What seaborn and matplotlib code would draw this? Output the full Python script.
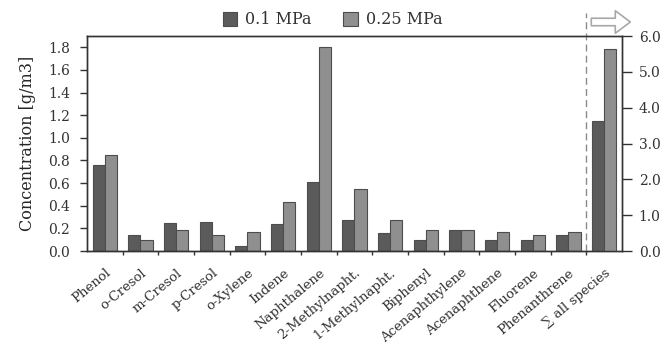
import matplotlib
matplotlib.use("Agg")
import matplotlib.pyplot as plt
from matplotlib.patches import FancyArrowPatch
from matplotlib.ticker import FormatStrFormatter
import seaborn as sns
import pandas as pd

# Gas-phase concentrations of individual tar species at two pressures [g/m3]
species = ["Phenol", "o-Cresol", "m-Cresol", "p-Cresol", "o-Xylene", "Indene",
           "Naphthalene", "2-Methylnapht.", "1-Methylnapht.", "Biphenyl",
           "Acenaphthylene", "Acenaphthene", "Fluorene", "Phenanthrene"]
conc_low = [0.76, 0.14, 0.25, 0.26, 0.04, 0.24, 0.61, 0.27, 0.16, 0.10,
            0.19, 0.10, 0.10, 0.14]
conc_high = [0.85, 0.10, 0.19, 0.14, 0.17, 0.43, 1.80, 0.55, 0.27, 0.19,
             0.19, 0.17, 0.14, 0.17]

# Sum over all species (right-hand axis)
total_label = "\u2211 all species"
total_low = 3.64
total_high = 5.64

pressures = ["0.1 MPa", "0.25 MPa"]
left_ticks = [0.0, 0.2, 0.4, 0.6, 0.8, 1.0, 1.2, 1.4, 1.6, 1.8]
right_ticks = [0.0, 1.0, 2.0, 3.0, 4.0, 5.0, 6.0]

sns.set_style("ticks")
plt.rcParams["font.family"] = ["DejaVu Serif"]
plt.rcParams["axes.edgecolor"] = "#333333"
plt.rcParams["xtick.color"] = "#333333"
plt.rcParams["ytick.color"] = "#333333"
plt.rcParams["text.color"] = "#333333"

order = species + [total_label]
palette = {pressures[0]: "#5b5b5b", pressures[1]: "#8f8f8f"}

df = pd.DataFrame({
    "compound": species * 2,
    "conc": conc_low + conc_high,
    "pressure": [pressures[0]] * len(species) + [pressures[1]] * len(species),
})
df_total = pd.DataFrame({
    "compound": [total_label, total_label],
    "conc": [total_low, total_high],
    "pressure": pressures,
})

fig = plt.figure(figsize=(6.65, 3.49), dpi=100)
ax = fig.add_axes([0.1308, 0.2808, 0.8045, 0.616])

bar_kw = dict(x="compound", y="conc", hue="pressure", order=order,
              hue_order=pressures, palette=palette, width=0.68,
              edgecolor="#4d4d4d", linewidth=0.8, saturation=1,
              errorbar=None)
sns.barplot(data=df, ax=ax, **bar_kw)

ax2 = ax.twinx()
sns.barplot(data=df_total, ax=ax2, legend=False, **bar_kw)

handles, labels = ax.get_legend_handles_labels()
ax.get_legend().remove()

ax.set_xlim(-0.5, len(order) - 0.5)
ax.set_ylim(0, 1.9)
ax2.set_ylim(0, 6.0)

ax.set_yticks(left_ticks)
ax.yaxis.set_major_formatter(FormatStrFormatter("%.1f"))
ax2.set_yticks(right_ticks)
ax2.yaxis.set_major_formatter(FormatStrFormatter("%.1f"))

ax.set_xticks(range(len(order)))
ax.set_xticklabels(order, rotation=40, ha="right", rotation_mode="anchor",
                   fontsize=9.5, family=["DejaVu Serif"])
ax.set_xticks([i + 0.5 for i in range(len(order) - 1)], minor=True)
ax.tick_params(axis="x", which="major", length=0, pad=11)
ax.tick_params(axis="x", which="minor", length=3, width=1, direction="out")
ax2.tick_params(axis="x", which="both", length=0, labelbottom=False)
ax.tick_params(axis="y", length=5, width=1, pad=7, labelsize=10)
ax2.tick_params(axis="y", length=7, width=1, pad=5, labelsize=10)

ax.set_xlabel("")
ax2.set_xlabel("")
ax2.set_ylabel("")
ax.set_ylabel("Concentration [g/m3]", fontsize=11.5, labelpad=9)

for a in (ax, ax2):
    for s in a.spines.values():
        s.set_linewidth(1.0)

# Separator between single species and their sum, reaching above the frame
ax.plot([len(order) - 1.5] * 2, [0, 1.107], transform=ax.get_xaxis_transform(),
        color="#8a8a8a", lw=1.0, ls=(0, (5, 3)), clip_on=False, zorder=5)

# Arrow pointing to the right-hand axis
arrow = FancyArrowPatch((0.885, 0.937), (0.952, 0.937),
                        transform=fig.transFigure,
                        arrowstyle="simple,head_length=0.6,head_width=0.9,tail_width=0.3",
                        mutation_scale=18, fc="white", ec="#a8a8a8", lw=1.2)
fig.patches.append(arrow)

fig.legend(handles, labels, loc="center", bbox_to_anchor=(0.5, 0.943),
           ncol=2, frameon=False, fontsize=11.5, handlelength=0.9,
           handleheight=0.9, columnspacing=2.0, handletextpad=0.5)

fig.savefig("out.png", dpi=100)
